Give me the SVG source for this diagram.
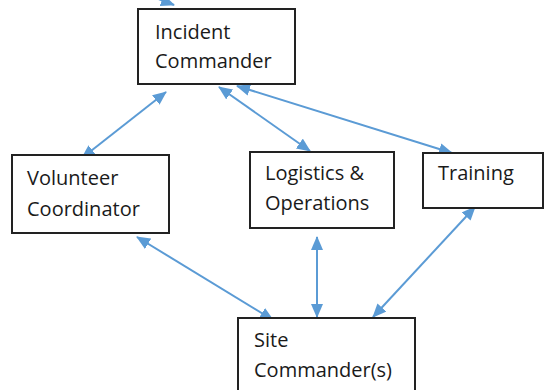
<svg xmlns="http://www.w3.org/2000/svg" width="544" height="390" viewBox="0 0 544 390">
<defs>
<style>
.box{fill:#fff;stroke:#222;stroke-width:2}
.lbl{font-family:"Open Sans","Liberation Sans",sans-serif;font-size:20px;fill:#1a1a1a}
.con{stroke:#5B9BD5;stroke-width:2;fill:none;marker-start:url(#ah);marker-end:url(#ah)}
.con1{stroke:#5B9BD5;stroke-width:2;fill:none;marker-end:url(#ah)}
</style>
<marker id="ah" viewBox="0 0 14 12" refX="13" refY="6" markerWidth="14" markerHeight="12" markerUnits="userSpaceOnUse" orient="auto-start-reverse">
<path d="M0,0 L14,6 L0,12 z" fill="#5B9BD5"/>
</marker>
</defs>
<rect width="544" height="390" fill="#fff"/>
<g id="connectors">
<line class="con1" x1="125" y1="-14" x2="174" y2="5"/>
<line class="con" x1="82" y1="158" x2="166" y2="92"/>
<line class="con" x1="219" y1="87" x2="310" y2="151"/>
<line class="con" x1="237" y1="86" x2="452" y2="153"/>
<line class="con" x1="137" y1="237" x2="273" y2="320"/>
<line class="con" x1="317" y1="237" x2="317" y2="317"/>
<line class="con" x1="475" y1="207" x2="373" y2="317"/>
</g>
<g id="incident-commander">
<rect class="box" x="138" y="9" width="157" height="75"/>
<text class="lbl" x="155" y="39">Incident</text>
<text class="lbl" x="155" y="68">Commander</text>
</g>
<g id="volunteer-coordinator">
<rect class="box" x="12" y="155" width="157" height="78"/>
<text class="lbl" x="27" y="185">Volunteer</text>
<text class="lbl" x="27" y="216">Coordinator</text>
</g>
<g id="logistics-operations">
<rect class="box" x="250" y="152" width="144" height="76"/>
<text class="lbl" x="265" y="180">Logistics &amp;</text>
<text class="lbl" x="265" y="210">Operations</text>
</g>
<g id="training">
<rect class="box" x="423" y="153" width="120" height="55"/>
<text class="lbl" x="438" y="180">Training</text>
</g>
<g id="site-commander">
<rect class="box" x="238" y="318" width="177" height="90"/>
<text class="lbl" x="254" y="347">Site</text>
<text class="lbl" x="254" y="377">Commander(s)</text>
</g>
</svg>
